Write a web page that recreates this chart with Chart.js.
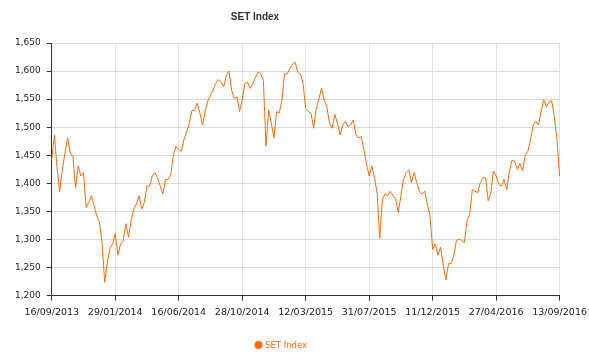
<!DOCTYPE html>
<html>
<head>
<meta charset="utf-8">
<script src="https://cdn.jsdelivr.net/npm/chart.js@4.4.1/dist/chart.umd.min.js"></script>
<style>
  html, body { margin: 0; padding: 0; background: #fff; overflow: hidden; }
  canvas { display: block; }
</style>
</head>
<body>
<canvas id="setChart" width="593" height="354"></canvas>
<script>
// SET Index, sampled every few trading days from 16/09/2013 to 13/09/2016
const seriesName = 'SET Index';
const tickLabels = ['16/09/2013', '29/01/2014', '16/06/2014', '28/10/2014', '12/03/2015',
                    '31/07/2015', '11/12/2015', '27/04/2016', '13/09/2016'];
const pointsPerLabel = 24;

const values2013 = [1442, 1486, 1428, 1385, 1425, 1454, 1481, 1454, 1448, 1392, 1431, 1413, 1419,
                    1357, 1366, 1378, 1360, 1342, 1331, 1295, 1224, 1259, 1284, 1292, 1310];
const values2014a = [1272, 1292, 1298, 1328, 1304, 1334, 1354, 1363, 1378, 1354, 1366, 1395,
                     1395, 1413, 1419, 1410, 1395, 1381, 1407, 1407, 1416, 1451, 1466, 1460];
const values2014b = [1457, 1478, 1492, 1507, 1530, 1530, 1543, 1525, 1504, 1528, 1547, 1557,
                     1566, 1578, 1585, 1580, 1572, 1592, 1600, 1566, 1551, 1554, 1528, 1548];
const values2014c = [1578, 1580, 1569, 1578, 1589, 1598, 1596, 1583, 1466, 1530, 1507, 1481,
                     1528, 1525, 1548, 1595, 1595, 1604, 1612, 1616, 1598, 1595, 1578, 1533];
const values2015a = [1528, 1525, 1498, 1533, 1551, 1569, 1548, 1536, 1507, 1498, 1523, 1507,
                     1486, 1504, 1510, 1501, 1504, 1513, 1486, 1481, 1483, 1460, 1434, 1413];
const values2015b = [1431, 1410, 1383, 1302, 1372, 1381, 1378, 1386, 1378, 1372, 1348, 1378,
                     1407, 1419, 1424, 1401, 1419, 1401, 1386, 1381, 1386, 1363, 1342, 1282];
const values2016a = [1292, 1272, 1286, 1254, 1228, 1257, 1257, 1272, 1298, 1301, 1298, 1295,
                     1334, 1345, 1389, 1386, 1383, 1401, 1410, 1410, 1369, 1383, 1422, 1413];
const values2016b = [1398, 1395, 1407, 1389, 1422, 1441, 1439, 1425, 1435, 1422, 1451, 1457,
                     1478, 1504, 1510, 1504, 1528, 1549, 1536, 1545, 1547, 1519, 1478, 1413, 1466];

const setValues = [].concat(values2013, values2014a, values2014b, values2014c,
                            values2015a, values2015b, values2016a, values2016b);

const lineColor = '#ff6a0d';

// title and legend are drawn by hand so they sit where the original put them
const headerPlugin = {
  id: 'header',
  afterDraw(chart) {
    const ctx = chart.ctx;
    ctx.save();
    ctx.fillStyle = '#333';
    ctx.font = 'bold 10px "Liberation Sans", Arial, sans-serif';
    ctx.textAlign = 'center';
    ctx.textBaseline = 'middle';
    ctx.fillText(seriesName, 255, 17);

    ctx.fillStyle = lineColor;
    ctx.beginPath();
    ctx.arc(258.5, 345, 4, 0, Math.PI * 2);
    ctx.fill();
    ctx.font = '8.5px "DejaVu Sans", sans-serif';
    ctx.textAlign = 'left';
    ctx.fillText(seriesName, 265, 345.5);
    ctx.restore();
  }
};

new Chart(document.getElementById('setChart').getContext('2d'), {
  type: 'line',
  data: {
    datasets: [{
      label: seriesName,
      data: setValues.map((v, i) => ({ x: i, y: v })),
      borderColor: lineColor,
      borderWidth: 1,
      pointRadius: 0,
      tension: 0,
      fill: false,
      clip: false
    }]
  },
  options: {
    responsive: false,
    animation: false,
    layout: { padding: { top: 43, right: 26, bottom: 30, left: 9 } },
    plugins: {
      legend: { display: false },
      title: { display: false },
      tooltip: { enabled: false }
    },
    scales: {
      x: {
        type: 'linear',
        min: 0,
        max: pointsPerLabel * (tickLabels.length - 1),
        grid: { color: '#e3e3e3', tickColor: '#333', tickLength: 5 },
        border: { color: '#333', width: 1 },
        ticks: {
          stepSize: pointsPerLabel,
          autoSkip: false,
          maxRotation: 0,
          padding: 6,
          color: '#222',
          font: { family: 'DejaVu Sans', size: 9.5 },
          callback: (v) => tickLabels[v / pointsPerLabel]
        }
      },
      y: {
        min: 1200,
        max: 1650,
        grid: { color: '#d9d9d9', tickColor: '#333', tickLength: 5 },
        border: { color: '#333', width: 1 },
        ticks: {
          stepSize: 50,
          padding: 6,
          color: '#222',
          font: { family: 'DejaVu Sans', size: 9 },
          callback: (v) => v.toLocaleString('en-US')
        }
      }
    }
  },
  plugins: [headerPlugin]
});
</script>
</body>
</html>
